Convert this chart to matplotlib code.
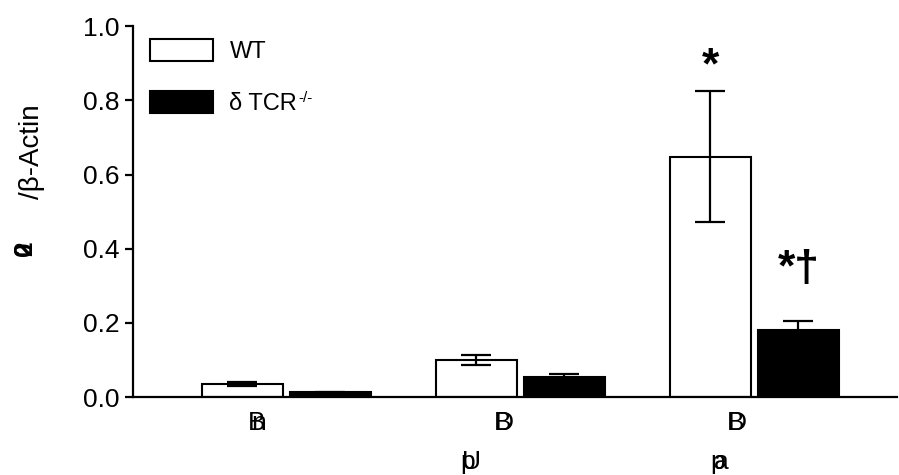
import numpy as np
import matplotlib.pyplot as plt

plt.rcParams['font.family'] = ['Liberation Sans', 'DejaVu Sans']

# values
groups = [0, 1, 2]
wt_vals = [0.035, 0.100, 0.648]
wt_err = [0.005, 0.014, 0.177]
ko_vals = [0.013, 0.055, 0.182]
ko_err = [0.002, 0.008, 0.022]
yticks = [0.0, 0.2, 0.4, 0.6, 0.8, 1.0]

fig = plt.figure(figsize=(8.99, 4.75), dpi=100)
ax = fig.add_axes([0.148, 0.164, 0.85, 0.781])

x = np.array(groups, dtype=float)
w = 0.346
off = 0.188
ekw = dict(elinewidth=1.6, capthick=1.6, ecolor='black')
ax.bar(x - off, wt_vals, w, yerr=wt_err, capsize=11, color='white',
       edgecolor='black', linewidth=1.5, error_kw=ekw, label='WT')
ax.bar(x + off, ko_vals, w, yerr=ko_err, capsize=11, color='black',
       edgecolor='black', linewidth=1.5, error_kw=ekw, label='δ TCR')

ax.set_xlim(-0.654, 2.61)
ax.set_ylim(0, 1.0)
ax.set_yticks(yticks)
ax.set_yticklabels(['%.1f' % t for t in yticks], fontsize=19)
ax.set_xticks([])
for s in ['top', 'right']:
    ax.spines[s].set_visible(False)
for s in ['left', 'bottom']:
    ax.spines[s].set_linewidth(1.6)
ax.tick_params(axis='y', direction='out', length=6, width=1.6, pad=4)

# significance marks
ax.text(x[2] - off, wt_vals[2] + wt_err[2] + 0.01, '*', ha='center', va='bottom',
        fontsize=32, fontweight='bold')
ax.text(x[2] + off, ko_vals[2] + ko_err[2] + 0.085, '*†', ha='center', va='bottom',
        fontsize=32, fontweight='bold')

# garbled category labels (overlapping glyphs as in the original)
tr = ax.get_xaxis_transform()
lab = dict(ha='center', va='center', fontsize=19, transform=tr, clip_on=False)
ax.text(-0.128, -0.07, 'B', **lab)
ax.text(-0.118, -0.07, 'n', **lab)
ax.text(0.923, -0.07, 'B', **lab)
ax.text(0.930, -0.07, 'D', **lab)
ax.text(0.775, -0.175, 'p', **lab)
ax.text(0.790, -0.175, 'U', **lab)
ax.text(1.920, -0.07, 'B', **lab)
ax.text(1.927, -0.07, 'D', **lab)
ax.text(1.845, -0.175, 'p', **lab)
ax.text(1.860, -0.175, 'a', **lab)

# y label pieces
fig.text(0.036, 0.68, '/β-Actin', rotation=90, ha='center', va='center', fontsize=20)
fig.text(0.028, 0.477, '2', rotation=90, ha='center', va='center', fontsize=19,
         fontweight='bold')
fig.text(0.028, 0.477, '0', rotation=90, ha='center', va='center', fontsize=19,
         fontweight='bold')

leg = ax.legend(loc='upper left', bbox_to_anchor=(0.022, 0.965), frameon=False,
                fontsize=17, handlelength=2.67, handleheight=1.05, labelspacing=1.2,
                handletextpad=0.7, borderpad=0, borderaxespad=0)

# small superscript after the knockout label
fig.canvas.draw()
bb = leg.get_texts()[1].get_window_extent()
ax.annotate('-/-', xy=(bb.x1 + 1, bb.y1 + 2), xycoords='figure pixels',
            fontsize=11, ha='left', va='top', annotation_clip=False)

fig.savefig('out.png', dpi=100)
